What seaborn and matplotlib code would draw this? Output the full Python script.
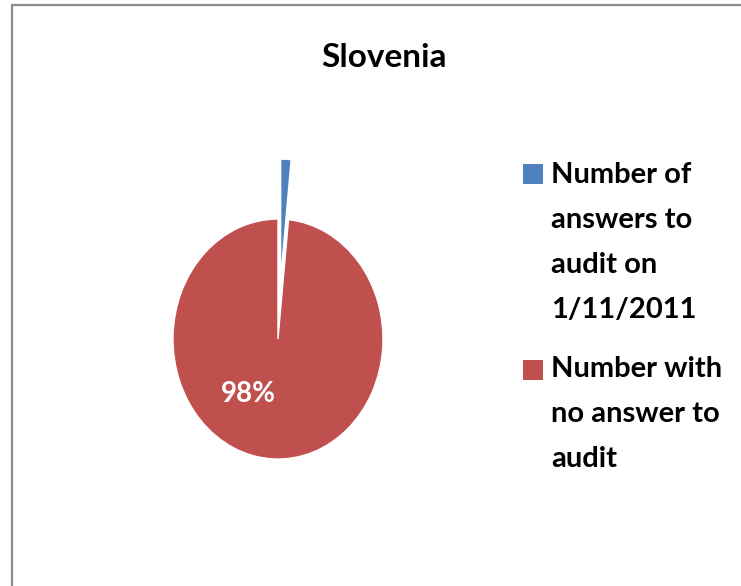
import seaborn as sns
import matplotlib.pyplot as plt
from matplotlib.patches import Rectangle

# Slovenia: answers to audit (share of total, %)
categories = ["Number of\nanswers to\naudit on\n1/11/2011",
              "Number with\nno answer to\naudit"]
shares = [1.6, 98.4]
colors = ["#4F81BD", "#C0504D"]

sns.set_style("white")
plt.rcParams['font.family'] = ['Lato', 'DejaVu Sans']

fig = plt.figure(figsize=(7.41, 5.86), dpi=100)

# frame of the original chart area (top and left edge visible)
fig.add_artist(Rectangle((12 / 741, -0.05), 1.2, 1.05 - 5 / 586,
                         transform=fig.transFigure, fill=False,
                         edgecolor="#8c8c8c", linewidth=1.6))

ax = fig.add_axes([0.1626, 0.1143, 0.4251, 0.6143])


def pct_label(p):
    return f"{p:.0f}%" if p > 5 else ""


wedges, texts, autotexts = ax.pie(
    shares,
    colors=colors,
    startangle=90,
    counterclock=False,
    explode=[0.5, 0],
    autopct=pct_label,
    wedgeprops={"edgecolor": "white", "linewidth": 1.0},
    textprops={"color": "white", "fontsize": 20, "fontweight": "bold"},
)
ax.set_aspect("auto")
ax.set_xlim(-1.5, 1.5)
ax.set_ylim(-1.5, 1.5)

# Excel puts the percent label lower left of the centre
autotexts[1].set_position((-0.286, -0.458))
autotexts[1].set_ha("center")
autotexts[1].set_va("center")

fig.text(384 / 741, 1 - 67 / 586, "Slovenia", ha="center", va="baseline",
         fontsize=24, fontweight="bold", color="black")

# legend drawn as in the original: square markers next to wrapped labels
marker_baselines = [184, 380]   # first line of each label
last_baselines = [318, 467]     # last line of each label
for label, col, mb, lb in zip(categories, colors, marker_baselines, last_baselines):
    fig.add_artist(Rectangle((523 / 741, 1 - mb / 586), 20 / 741, 20 / 586,
                             transform=fig.transFigure, facecolor=col,
                             edgecolor="none"))
    fig.text(551 / 741, 1 - lb / 586, label, ha="left", va="baseline",
             fontsize=21, fontweight="bold", color="black", linespacing=1.9)

fig.savefig("out.png", dpi=100)
